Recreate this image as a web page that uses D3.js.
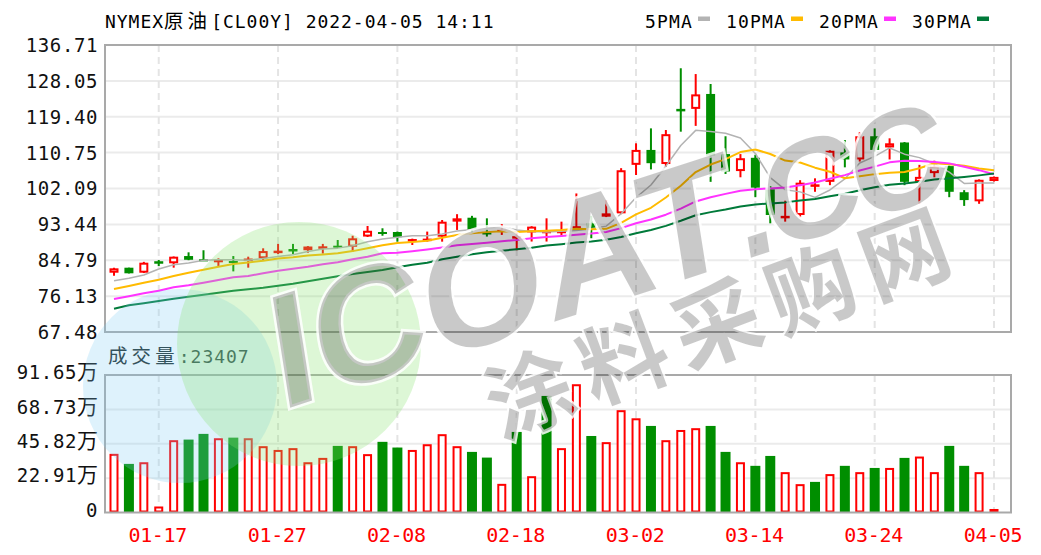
<!DOCTYPE html>
<html><head><meta charset="utf-8">
<script src="https://cdn.jsdelivr.net/npm/d3@7"></script>
<style>
html,body{margin:0;padding:0;background:#fff;overflow:hidden}
svg{display:block}
</style></head><body>
<svg id="c" width="1041" height="555"></svg>
<script>
// ---------------- data ----------------
const title = "NYMEX原油[CL00Y] 2022-04-05 14:11";
const dates = ["01-12","01-13","01-14","01-17","01-18","01-19","01-20","01-21","01-24","01-25","01-26","01-27","01-28","01-31",
  "02-01","02-02","02-03","02-04","02-07","02-08","02-09","02-10","02-11","02-14","02-15","02-16","02-17","02-18","02-21","02-22","02-23","02-24","02-25","02-28",
  "03-01","03-02","03-03","03-04","03-07","03-08","03-09","03-10","03-11","03-14","03-15","03-16","03-17","03-18","03-21","03-22","03-23","03-24","03-25","03-28","03-29","03-30","03-31",
  "04-01","04-04","04-05"];
const open  = [81.78,82.99,81.78,84.25,84.05,85.8,85.0,84.7,84.6,84.9,85.25,86.9,87.2,87.2,87.9,88.3,88.05,90.5,91.6,91.6,89.5,89.7,90.47,94.1,95.05,91.5,92.0,90.3,91.5,91.6,91.6,92.5,93.7,95.3,96.1,107.8,111.4,108.0,121.0,121.3,124.9,110.4,106.3,109.5,101.9,95.0,95.7,102.8,103.7,110.8,109.1,114.7,112.0,113.2,103.7,105.8,107.5,101.2,99.0,103.9];
const high  = [82.95,83.0,84.4,84.85,85.7,86.7,87.2,85.25,85.8,85.65,87.67,88.73,88.73,88.2,88.73,89.67,90.7,93.05,92.5,91.7,90.0,91.7,94.5,95.9,95.5,94.9,93.5,91.7,93.0,94.9,94.1,100.9,95.5,99.3,107.0,113.0,116.6,116.2,131.1,129.7,127.3,114.7,110.4,110.2,102.7,99.15,104.1,104.55,111.3,113.8,115.7,116.6,114.2,113.3,107.8,108.8,107.6,101.7,104.3,105.0];
const low   = [81.06,81.6,81.7,83.4,83.0,84.8,84.75,83.4,82.1,83.0,84.85,86.3,86.3,86.6,86.4,87.9,86.85,90.4,90.7,89.27,88.47,89.3,89.27,92.1,91.3,90.5,90.9,87.2,89.3,89.3,90.5,92.4,90.1,95.2,95.9,105.35,106.7,107.35,115.8,117.2,103.7,105.6,104.8,100.0,93.7,94.1,95.15,101.3,102.9,107.2,108.6,111.0,109.1,102.9,98.4,104.8,100.0,97.9,98.4,103.8];
const close = [82.84,81.64,84.2,84.25,85.65,84.9,84.8,84.9,84.2,85.2,87.0,87.1,87.2,88.1,88.15,88.0,90.08,91.9,91.4,90.35,89.9,90.0,94.09,94.9,92.1,91.0,92.2,90.3,92.9,91.6,91.9,93.0,92.5,96.1,106.5,111.4,108.2,115.2,121.0,124.8,110.0,106.2,109.4,102.3,95.7,95.5,103.5,102.8,111.2,109.1,114.7,111.4,113.0,103.7,104.9,107.4,101.3,99.3,104.2,104.9];
// volume in 万 (10k)
const volume = [39.1,32.4,33.5,4.0,48.2,48.6,52.4,49.5,49.9,49.5,44.2,41.7,42.9,33.5,36.4,44.4,44.2,38.9,47.1,43.3,41.7,45.5,52.2,44.2,40.4,36.6,19.1,53.7,24.2,77.7,42.9,85.5,51.0,46.9,68.2,62.8,57.7,48.2,55.0,56.2,57.7,40.4,33.5,31.1,37.7,26.9,18.9,20.4,25.6,31.1,26.9,29.7,29.7,36.4,37.3,26.9,44.4,31.1,26.9,2.3407];
const lastVolume = 23407;
// moving-average values for the bars whose window starts before the first visible bar
const ma5Head  = [79.85,80.43,81.23,82.68];
const ma10Head = [77.85,78.57,79.37,80.1,80.99,81.78,82.5,83.23,83.88];
const ma20Head = [75.44,76.09,76.81,77.44,78.26,78.74,79.37,80.02,80.67,80.99,81.64,82.27,82.75,83.23,83.81,84.29,85.02,85.65,86.47];
const ma30Head = [73.1,73.92,74.4,74.95,75.52,75.99,76.48,76.96,77.44,77.78,78.17,78.65,79.13,79.7,80.33,80.91,81.47,81.95,82.43,83.08,83.7,84.2,85.02,85.65,86.22,86.7,87.1,87.43,87.82];
const maNames = ["5PMA","10PMA","20PMA","30PMA"];
const maPeriods = [5,10,20,30];
const priceTicks = [67.48,76.13,84.79,93.44,102.09,110.75,119.40,128.05,136.71];
const volTicks = [0,22.91,45.82,68.73,91.65];
const dateTicks = ["01-17","01-27","02-08","02-18","03-02","03-14","03-24","04-05"];
const watermarkHead = "ICOAT";
const watermarkTail = ".CC";
const watermarkCJK = "涂料采购网";

// ---------------- styles ----------------
const RED = "#ff0000", GREEN = "#008e00";
const maColors = ["#b3b3b3","#ffbb00","#ff33ff","#007a3a"];
const maWidths = [1.5,2,2,2];
const MONO = "'DejaVu Sans Mono','Liberation Mono',monospace";
const CJKF = "'Noto Sans CJK SC','Noto Sans CJK JP',sans-serif";

const L = 105, R = 1011, PT = 45, PB = 332, VT = 375, VB = 512.5;

const svg = d3.select("#c");
svg.append("rect").attr("width",1041).attr("height",555).attr("fill","#fff");

const x = d3.scalePoint().domain(dates).range([114, 994]);
const y = d3.scaleLinear().domain([priceTicks[0], priceTicks[priceTicks.length-1]]).range([PB, PT]);
const yv = d3.scaleLinear().domain([0, volTicks[volTicks.length-1]]).range([VB, VT]);

// ---------------- grid ----------------
const grid = svg.append("g");
grid.selectAll("line.hp").data(priceTicks.slice(1,-1)).join("line")
  .attr("x1",L).attr("x2",R).attr("y1",d=>y(d)).attr("y2",d=>y(d))
  .attr("stroke","#ebebeb").attr("stroke-width",2);
grid.selectAll("line.hv").data(volTicks.slice(1,-1)).join("line").attr("class","hv")
  .attr("x1",L).attr("x2",R).attr("y1",d=>yv(d)).attr("y2",d=>yv(d))
  .attr("stroke","#ebebeb").attr("stroke-width",2);
[[PT,PB],[VT,VB]].forEach(([a,b])=>{
  grid.append("g").selectAll("line").data(dateTicks).join("line")
    .attr("x1",d=>x(d)).attr("x2",d=>x(d)).attr("y1",a).attr("y2",b)
    .attr("stroke","#e4e4e4").attr("stroke-width",2).attr("stroke-dasharray","7,5");
});

// ---------------- direction helpers ----------------
const volUp = i => close[i] > open[i] || (close[i] === open[i] && (i === 0 || close[i] >= close[i-1]));
const candleUp = i => close[i] !== open[i] ? close[i] > open[i] : !volUp(i);
const idx = d3.range(dates.length);

// ---------------- volume bars ----------------
const vg = svg.append("g");
idx.forEach(i=>{
  const cx = x(dates[i]), top = yv(volume[i]), h = VB - top;
  if (volUp(i)) {
    vg.append("rect").attr("x",cx-3.5).attr("width",7)
      .attr("y",top+1).attr("height",Math.max(h-2,0.5))
      .attr("fill","#fff").attr("stroke",RED).attr("stroke-width",2);
  } else {
    vg.append("rect").attr("x",cx-5).attr("width",10)
      .attr("y",top).attr("height",h).attr("fill",GREEN);
  }
});

// ---------------- candles ----------------
const cg = svg.append("g");
idx.forEach(i=>{
  const cx = x(dates[i]);
  const col = candleUp(i) ? RED : GREEN;
  cg.append("line").attr("x1",cx).attr("x2",cx).attr("y1",y(high[i])).attr("y2",y(low[i]))
    .attr("stroke",col).attr("stroke-width",2);
  const yo = y(open[i]), yc = y(close[i]);
  const top = Math.min(yo,yc), h = Math.abs(yo-yc);
  if (open[i] === close[i]) {
    cg.append("rect").attr("x",cx-4.5).attr("width",9).attr("y",yo-1.25).attr("height",2.5).attr("fill",col);
  } else if (close[i] > open[i]) {
    cg.append("rect").attr("x",cx-3.5).attr("width",7).attr("y",top+1).attr("height",Math.max(h-2,0.5))
      .attr("fill","#fff").attr("stroke",RED).attr("stroke-width",2);
  } else {
    cg.append("rect").attr("x",cx-4.5).attr("width",9).attr("y",top).attr("height",Math.max(h,2)).attr("fill",GREEN);
  }
});

// ---------------- moving averages ----------------
const heads = [ma5Head, ma10Head, ma20Head, ma30Head];
const mas = maPeriods.map((n,k)=> close.map((c,i)=> i < n-1 ? heads[k][i] : d3.mean(close.slice(i-n+1,i+1))));
const line = d3.line().x((d,i)=>x(dates[i])).y(d=>y(d));
const mg = svg.append("g");
mas.forEach((m,k)=>{
  mg.append("path").attr("d",line(m)).attr("fill","none")
    .attr("stroke",maColors[k]).attr("stroke-width",maWidths[k]).attr("stroke-linejoin","round");
});

// ---------------- frames ----------------
[[PT,PB],[VT,VB]].forEach(([a,b])=>{
  svg.append("rect").attr("x",L).attr("y",a).attr("width",R-L).attr("height",b-a)
    .attr("fill","none").attr("stroke","#a9a9a9").attr("stroke-width",2);
});

// ---------------- axes ----------------
const fmt2 = d3.format(".2f");
const ay = svg.append("g").attr("transform","translate(98,0)")
  .call(d3.axisLeft(y).tickValues(priceTicks).tickSize(0).tickPadding(0).tickFormat(fmt2));
ay.select(".domain").remove();
ay.selectAll("text").attr("font-family",MONO).attr("font-size",19).attr("letter-spacing",0.6).attr("fill","#111").attr("dy","0.34em");

const avy = svg.append("g").attr("transform","translate(98,0)")
  .call(d3.axisLeft(yv).tickValues(volTicks).tickSize(0).tickPadding(0).tickFormat(d=> d===0 ? "0" : fmt2(d)));
avy.select(".domain").remove();
avy.selectAll("text").attr("font-family",MONO).attr("font-size",19).attr("letter-spacing",0.6).attr("fill","#111").attr("dy","0.2em")
  .each(function(d){
    if (d !== 0) {
      d3.select(this).append("tspan").attr("font-family",CJKF).attr("font-size",21).attr("letter-spacing",0).text("万");
    }
  });

const ax = svg.append("g").attr("transform",`translate(-1.5,${VB})`)
  .call(d3.axisBottom(x).tickValues(dateTicks).tickSize(0).tickPadding(15));
ax.select(".domain").remove();
ax.selectAll("text").attr("font-family",MONO).attr("font-size",20).attr("letter-spacing",-0.3).attr("fill",RED);

// ---------------- mixed text helper ----------------
function mixed(x0, y0, str, size, adv, color){
  const t = svg.append("text").attr("x",x0).attr("y",y0).attr("fill",color);
  str.split(/([\u4e00-\u9fff]+)/).filter(s=>s.length).forEach(s=>{
    const isCJK = /[\u4e00-\u9fff]/.test(s);
    const fs = isCJK ? size*1.08 : size;
    t.append("tspan").attr("font-family", isCJK ? CJKF : MONO).attr("font-size",fs)
      .attr("letter-spacing", isCJK ? 2*adv - fs : adv - 0.602*size)
      .attr("xml:space","preserve").style("white-space","pre").text(s);
  });
  return t;
}
mixed(105, 28, title, 18, 11.8, "#000");
mixed(108, 363, "成交量:" + lastVolume, 18, 11.8, "#1b2b2b");

// legend
let lx = 645;
maNames.forEach((nm,k)=>{
  svg.append("text").attr("x",lx).attr("y",27.5).attr("font-family",MONO).attr("font-size",18)
    .attr("letter-spacing",12-0.602*18).attr("fill","#000").text(nm);
  const sx = lx + nm.length*12 + 5;
  svg.append("rect").attr("x",sx).attr("y",16.5).attr("width",12).attr("height",4.5).attr("fill",maColors[k]);
  lx = sx + 12 + 16;
});

// ---------------- watermark ----------------
const wm = svg.append("g").attr("pointer-events","none");
wm.append("circle").attr("cx",180).attr("cy",386).attr("r",97).attr("fill","#7dcdf5").attr("opacity",0.25);
wm.append("circle").attr("cx",299).attr("cy",344).attr("r",122).attr("fill","#86e36a").attr("opacity",0.28);
const wt = wm.append("text").attr("transform","translate(280,411) rotate(-18) skewX(-9)")
  .attr("font-family","'Liberation Sans',Arial,sans-serif").attr("font-weight","bold").attr("font-size",160)
  .attr("fill","rgba(0,0,0,0.21)").attr("stroke","rgba(255,255,255,0.85)").attr("stroke-width",5)
  .attr("paint-order","stroke");
wt.append("tspan").text(watermarkHead);
wt.append("tspan").attr("font-size",138).attr("letter-spacing",-8).text(watermarkTail);
wm.append("text").attr("transform","translate(500,440) rotate(-20.5)")
  .attr("font-family",CJKF).attr("font-weight","bold").attr("font-size",88).attr("letter-spacing",12)
  .attr("fill","rgba(0,0,0,0.21)").attr("stroke","rgba(255,255,255,0.85)").attr("stroke-width",4)
  .attr("paint-order","stroke").text(watermarkCJK);
</script>
</body></html>
